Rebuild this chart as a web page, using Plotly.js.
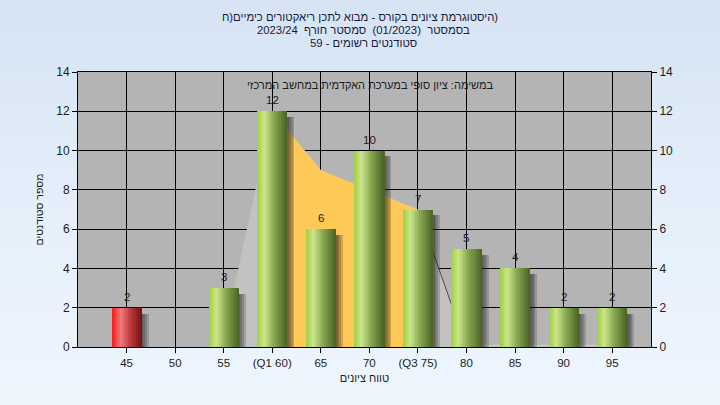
<!DOCTYPE html>
<html><head><meta charset="utf-8">
<script src="https://cdn.plot.ly/plotly-3.0.1.min.js"></script>
<style>
html,body{margin:0;padding:0;width:720px;height:405px;overflow:hidden;
background:linear-gradient(to bottom,#d5e3f3 0%,#e6f0fb 55%,#eef6fe 100%);}
#chart{width:720px;height:405px;}
</style>
</head><body><div id="chart"></div>
<script>
// ---- data ----
const grades = [45,50,55,60,65,70,75,80,85,90,95];
const counts = [2,0,3,12,6,10,7,5,4,2,2];
const tickLabels = ["45","50","55","(Q1 60)","65","70","(Q3 75)","80","85","90","95"];
const failing = [true,false,false,false,false,false,false,false,false,false,false];
const polyGrades = [55,60,65,70,75,80];
const polyCounts = [0.5,12,9,8,7,0];
const q1Grade = 60;
const q3Grade = 75;
const titleLines = [
  "\u2067היסטוגרמת ציונים בקורס - מבוא לתכן ריאקטורים כימיים(ח\u2069)",
  "בסמסטר  (01/2023)  סמסטר חורף  2023/24",
  "סטודנטים רשומים - 59"
];
const noteText = "במשימה: ציון סופי במערכת האקדמית במחשב המרכזי";
const xTitle = "טווח ציונים";
const yTitle = "מספר סטודנטים";

// ---- styling helpers ----
const FONT = "Liberation Sans, Arial, sans-serif";
const barW = 3.1;            // in grade units
const nStripes = 15;
const greenStops = [[0,[160,206,62]],[0.25,[202,230,142]],[0.55,[138,170,82]],[1,[72,98,36]]];
const redStops   = [[0,[255,22,22]],[0.3,[240,122,122]],[0.6,[188,60,60]],[1,[120,14,14]]];
function interp(stops,t){
  for(let i=1;i<stops.length;i++){
    if(t<=stops[i][0]){
      const a=stops[i-1],b=stops[i];const f=(t-a[0])/(b[0]-a[0]);
      const c=a[1].map((v,k)=>Math.round(v+(b[1][k]-v)*f));
      return `rgb(${c[0]},${c[1]},${c[2]})`;
    }
  }
  const c=stops[stops.length-1][1];return `rgb(${c[0]},${c[1]},${c[2]})`;
}

const traces = [];
// shadows
for(let k=1;k<=4;k++){
  traces.push({type:'bar',x:grades,y:counts.map(c=>Math.max(c-0.3,0)),
    offset:barW/2-0.3,width:0.3+k*0.18,
    marker:{color:'rgba(30,30,30,0.2)',line:{width:0}},
    hoverinfo:'skip',showlegend:false});
}
// gradient stripes
const sw = barW/nStripes;
for(let i=0;i<nStripes;i++){
  const t=(i+0.5)/nStripes;
  traces.push({type:'bar',x:grades,y:counts,
    offset:-barW/2+i*sw,width:sw*1.08,
    marker:{color:failing.map(f=>interp(f?redStops:greenStops,t)),line:{width:0}},
    hoverinfo:'skip',showlegend:false});
}
// invisible trace that carries the right-hand axis
traces.push({type:'scatter',mode:'markers',x:grades,y:counts,yaxis:'y2',
  marker:{opacity:0,size:1},hoverinfo:'skip',showlegend:false});

// polygons as shapes between grid and traces
function pathOf(xs,ys){return 'M '+xs.map((x,i)=>x+','+ys[i]).join(' L ')+' Z';}
const greyX=[polyGrades[0],...polyGrades], greyY=[0,...polyCounts];
const yx=[q1Grade], yy=[0];
polyGrades.forEach((g,i)=>{if(g>=q1Grade&&g<=q3Grade){yx.push(g);yy.push(polyCounts[i]);}});
yx.push(q3Grade); yy.push(0);
const iq3 = polyGrades.indexOf(q3Grade);
const shapes=[
  {type:'path',xref:'x',yref:'y',path:pathOf(greyX,greyY),fillcolor:'#c2c2c2',line:{width:0},layer:'between'},
  {type:'path',xref:'x',yref:'y',path:pathOf(yx,yy),fillcolor:'#fec957',line:{width:0},layer:'between'},
  {type:'line',xref:'x',yref:'y',x0:polyGrades[iq3],y0:polyCounts[iq3],x1:polyGrades[iq3+1],y1:polyCounts[iq3+1],
    line:{color:'#4a4a4a',width:1},layer:'between'},
  {type:'line',xref:'x',yref:'y',x0:polyGrades[iq3+1],y0:0.06,x1:97,y1:0.06,line:{color:'#c8c8c8',width:2},layer:'between'}
];

const annotations=[
  {text:noteText,xref:'paper',yref:'paper',x:0.51,y:0.953,xanchor:'center',yanchor:'middle',
    showarrow:false,font:{family:FONT,size:11,color:'#1c1c1c'}},
  {text:titleLines[1],xref:'paper',yref:'paper',x:0.4975,y:(347-30)/275,xanchor:'center',yanchor:'middle',
    showarrow:false,font:{family:FONT,size:11.3,color:'#1a1a3c'}},
  {text:titleLines[2],xref:'paper',yref:'paper',x:0.4975,y:(347-43)/275,xanchor:'center',yanchor:'middle',
    showarrow:false,font:{family:FONT,size:11.3,color:'#1a1a3c'}}
];
grades.forEach((g,i)=>{
  if(counts[i]>0) annotations.push({text:String(counts[i]),xref:'x',yref:'y',x:g,y:counts[i],
    xanchor:'center',yanchor:'bottom',yshift:3,showarrow:false,
    font:{family:FONT,size:11.5,color:'#1c1c1c'}});
});

const layout={
  width:720,height:405,
  paper_bgcolor:'rgba(0,0,0,0)',plot_bgcolor:'#b4b4b4',
  margin:{l:78,r:69,t:72,b:58},
  font:{family:FONT,size:11.5,color:'#1c1c1c'},
  barmode:'overlay',bargap:0,
  title:{text:titleLines[0],x:0.5,xanchor:'center',xref:'container',
    y:(405-17)/405,yanchor:'middle',yref:'container',font:{family:FONT,size:11.3,color:'#1a1a3c'}},
  xaxis:{range:[40,99],tickvals:grades,ticktext:tickLabels,showgrid:true,gridcolor:'#000',gridwidth:1,
    showline:true,linecolor:'#000',linewidth:1,mirror:true,ticks:'outside',ticklen:5,tickcolor:'#000',
    zeroline:false,fixedrange:true,tickfont:{size:11.5},
    title:{text:xTitle,standoff:6,font:{size:11}}},
  yaxis:{range:[0,14],dtick:2,showgrid:true,gridcolor:'#000',gridwidth:1,
    showline:true,linecolor:'#000',linewidth:1,ticks:'outside',ticklen:5,tickcolor:'#000',
    zeroline:false,fixedrange:true,tickfont:{size:12},
    title:{text:yTitle,standoff:10,font:{size:10.5}}},
  yaxis2:{range:[0,14],dtick:2,overlaying:'y',side:'right',showgrid:false,
    showline:true,linecolor:'#000',linewidth:1,ticks:'outside',ticklen:5,tickcolor:'#000',
    zeroline:false,fixedrange:true,tickfont:{size:12}},
  shapes:shapes,
  annotations:annotations
};
Plotly.newPlot('chart',traces,layout,{displayModeBar:false,staticPlot:true});
</script>
</body></html>
